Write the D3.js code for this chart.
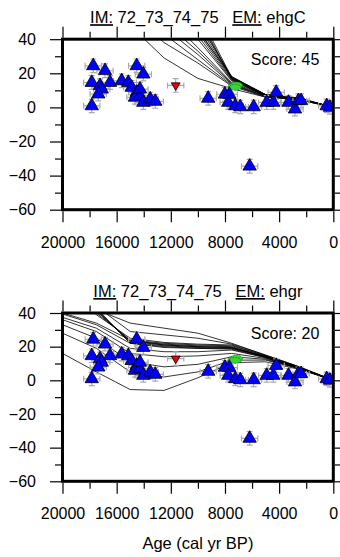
<!DOCTYPE html>
<html>
<head>
<meta charset="utf-8">
<script src="https://cdn.jsdelivr.net/npm/d3@7"></script>
<style>
  body { margin: 0; background: #fff; }
  svg { font-family: "Liberation Sans", Arial, Helvetica, sans-serif; }
</style>
</head>
<body>
<div id="chart"></div>
<script>
// observed sea-level index points (age in cal yr BP, RSL in m)
const obsAge = [17730, 16860, 17840, 17230, 17100, 16490, 15630, 15140, 14890, 14520,
                14030, 17360, 17840, 14520, 14650, 14280, 14030, 13520, 13150, 14280,
                9240, 8010, 7680, 7760, 7240, 6870, 5880, 4920, 4430, 4220,
                3310, 2830, 2580, 2380, 490, 250, 6180];
const obsRsl = [24.4, 21.5, 14.6, 12.7, 10.7, 14.6, 15.6, 14.6, 11.7, 24.4,
                19.5, 7.8, 0.9, 8.8, 5.9, 6.8, 2.9, 4.9, 3.5, 10.7,
                5.3, 7.7, 7.6, 2.9, 0.9, 0.3, 0.3, 2.9, 2.9, 8.8,
                2.9, -1, 3.9, 3.9, 0.9, 0, -34.5];
const ageErr = 600;
const rslErr = 4;
// limiting point (red) and the green samples
const limAge = [11640];
const limRsl = [12.9];
const greenAge = [7330, 7150, 7250];
const greenRsl = [12.6, 13.1, 11.8];

// model curves, values at these ages
const modelAges = [20000, 17500, 15000, 12500, 10000, 7500, 5000, 2500, 0];
const modelsC = [
  [70, 60, 48, 29, 17, 11, 6, 4.5, 0],
  [75, 65, 55, 38, 26, 12.5, 6, 4.5, 0],
  [80, 70, 60, 43, 28, 13, 6.5, 4.5, 0],
  [82, 72, 62, 47, 31, 13.5, 6.5, 5, 0],
  [85, 75, 65, 50, 33, 14, 6.5, 5, 0],
  [88, 78, 68, 55, 35, 14.5, 7, 5, 0],
  [90, 80, 70, 60, 40, 15.5, 7, 5, 0],
  [92, 82, 72, 62, 42, 16, 7, 5, 0],
  [94, 84, 74, 64, 44, 16.5, 7, 5, 0],
  [96, 86, 76, 66, 46, 17, 7.5, 5, 0],
  [98, 88, 78, 68, 48, 17.5, 7.5, 5, 0],
  [100, 90, 80, 70, 50, 18, 7.5, 5.5, 0],
  [100, 92, 82, 72, 52, 17, 7, 5, 0],
  [100, 94, 84, 74, 54, 16.5, 7, 5, 0],
  [100, 96, 86, 76, 56, 17.5, 7, 5, 0],
  [100, 90, 80, 70, 45, 18, 7.5, 5.5, 0]
];
const modelsR = [
  [48, 42, 34, 31, 28, 22, 15, 8, 0],
  [52, 44, 29, 27, 25, 21.5, 15, 8, 0],
  [55, 39, 25, 22.5, 21.5, 21, 14.5, 7.5, 0],
  [57, 40, 24, 22, 21, 20.5, 14.5, 7.5, 0],
  [58, 41, 23.5, 21.5, 20.5, 20, 14, 7.5, 0],
  [60, 41.5, 23, 21, 20, 19.5, 14, 7.5, 0],
  [61, 42, 22.5, 20.5, 19.5, 19, 14, 7.5, 0],
  [62, 43, 22, 20, 19, 18.5, 13.5, 7, 0],
  [40, 34, 24, 21, 20, 19.5, 14, 7.5, 0],
  [39.4, 33, 22, 19.5, 19, 19, 14, 7.5, 0],
  [37.4, 31, 19, 17, 17, 18, 13.5, 7, 0],
  [36, 29, 16, 14, 14.5, 16, 13, 7, 0],
  [33, 25, 11, 8, 9.5, 14, 12.5, 7, 0],
  [28, 19, 5, 2, 5, 12, 12, 7, 0],
  [16, 5, -5.5, -6, 1.5, 10.5, 11, 6.5, 0]
];

const imLabel = '72_73_74_75';
const emLabels = ['ehgC', 'ehgr'];
const scores = [45, 20];
const xDomain = [20000, 0];
const yDomain = [-60, 40];
const xMajor = [20000, 16000, 12000, 8000, 4000, 0];
const xMinor = [18000, 14000, 10000, 6000, 2000];
const yMajor = [40, 20, 0, -20, -40, -60];
const yMinor = [30, 10, -10, -30, -50];
const xTitle = 'Age (cal yr BP)';

document.addEventListener('DOMContentLoaded', function(){
  drawChart();
});

function drawChart() {
  const svg = d3.select('#chart').append('svg').attr('width', 340).attr('height', 557);

  const left = 62.5, right = 333.3;
  const panels = [
    {top: 39.2, bottom: 209.7, models: modelsC},
    {top: 313, bottom: 481.3, models: modelsR}
  ];

  const x = d3.scaleLinear().domain(xDomain).range([left, right]);

  panels.forEach(function(p, i) {
    const y = d3.scaleLinear().domain(yDomain).range([p.bottom, p.top]);
    const g = svg.append('g');

    g.append('clipPath').attr('id', 'clip' + i)
      .append('rect').attr('x', left).attr('y', p.top)
      .attr('width', right - left).attr('height', p.bottom - p.top);

    // axes: major ticks with labels, minor ticks without
    function axisPair(axisFn, scale, major, minor, transform, labels) {
      const a = g.append('g').attr('transform', transform)
        .call(axisFn(scale).tickValues(major).tickSize(11).tickPadding(14)
          .tickFormat(labels ? d3.format('d') : ''));
      const b = g.append('g').attr('transform', transform)
        .call(axisFn(scale).tickValues(minor).tickSize(6).tickFormat(''));
      [a, b].forEach(function(s) {
        s.select('.domain').remove();
        s.selectAll('line').attr('stroke', '#000').attr('stroke-width', 1.2);
        s.selectAll('text').attr('font-size', 16).attr('fill', '#000')
          .style('font-family', '"Liberation Sans", Arial, sans-serif');
      });
    }
    axisPair(d3.axisBottom, x, xMajor, xMinor, 'translate(0,' + (p.bottom + 1.5) + ')', true);
    axisPair(d3.axisTop, x, xMajor, xMinor, 'translate(0,' + (p.top - 1.5) + ')', false);
    axisPair(d3.axisLeft, y, yMajor, yMinor, 'translate(' + (left - 1.5) + ',0)', true);
    axisPair(d3.axisRight, y, yMajor, yMinor, 'translate(' + (right + 1.5) + ',0)', false);

    const plot = g.append('g').attr('clip-path', 'url(#clip' + i + ')');

    // model curves
    const line = d3.line()
      .x(function(d, k) { return x(modelAges[k]); })
      .y(function(d) { return y(d); });
    plot.selectAll('path.model').data(p.models).enter().append('path')
      .attr('class', 'model')
      .attr('d', line)
      .attr('fill', 'none')
      .attr('stroke', '#000')
      .attr('stroke-width', 0.8);

    // error crosses
    const allAge = obsAge.concat(limAge);
    const allRsl = obsRsl.concat(limRsl);
    const cross = plot.append('g').attr('stroke', '#aaaaaa').attr('stroke-width', 1.2).attr('fill', 'none');
    allAge.forEach(function(a, k) {
      const cx = x(a), cy = y(allRsl[k]);
      const x0 = x(a + ageErr), x1 = x(a - ageErr);
      const y0 = y(allRsl[k] + rslErr), y1 = y(allRsl[k] - rslErr);
      cross.append('path').attr('d',
        'M' + x0 + ',' + cy + 'H' + x1 +
        'M' + x0 + ',' + (cy - 3) + 'V' + (cy + 3) +
        'M' + x1 + ',' + (cy - 3) + 'V' + (cy + 3) +
        'M' + cx + ',' + y0 + 'V' + y1 +
        'M' + (cx - 3) + ',' + y0 + 'H' + (cx + 3) +
        'M' + (cx - 3) + ',' + y1 + 'H' + (cx + 3));
    });

    // green samples
    plot.selectAll('ellipse.green').data(greenAge).enter().append('ellipse')
      .attr('cx', function(d) { return x(d); })
      .attr('cy', function(d, k) { return y(greenRsl[k]); })
      .attr('rx', 6).attr('ry', 3)
      .attr('fill', '#3ad33a')
      .attr('stroke', '#0a8a0a')
      .attr('stroke-width', 0.8)
      .attr('stroke-dasharray', '2,1');

    // observed points
    const tri = d3.symbol().type(d3.symbolTriangle).size(78);
    plot.selectAll('path.obs').data(obsAge).enter().append('path')
      .attr('class', 'obs')
      .attr('d', tri)
      .attr('transform', function(d, k) { return 'translate(' + x(d) + ',' + y(obsRsl[k]) + ')'; })
      .attr('fill', '#0000ff')
      .attr('stroke', '#000')
      .attr('stroke-width', 0.8);

    // limiting point
    const triSmall = d3.symbol().type(d3.symbolTriangle).size(34);
    plot.selectAll('path.lim').data(limAge).enter().append('path')
      .attr('class', 'lim')
      .attr('d', triSmall)
      .attr('transform', function(d, k) { return 'translate(' + x(d) + ',' + y(limRsl[k]) + ') rotate(180)'; })
      .attr('fill', '#e8000b')
      .attr('stroke', '#000')
      .attr('stroke-width', 0.8);

    // frame
    g.append('rect')
      .attr('x', left).attr('y', p.top)
      .attr('width', right - left).attr('height', p.bottom - p.top)
      .attr('fill', 'none').attr('stroke', '#000').attr('stroke-width', 3);

    // title with underlined keys
    const t = g.append('text')
      .attr('x', (left + right) / 2).attr('y', p.top - 16)
      .attr('text-anchor', 'middle').attr('font-size', 16.5);
    t.append('tspan').style('text-decoration', 'underline').text('IM:');
    t.append('tspan').text(' ' + imLabel + '\u00a0\u00a0\u00a0');
    t.append('tspan').style('text-decoration', 'underline').text('EM:');
    t.append('tspan').text(' ' + emLabels[i]);

    g.append('text')
      .attr('x', right - 14).attr('y', p.top + 25.5)
      .attr('text-anchor', 'end').attr('font-size', 16)
      .text('Score: ' + scores[i]);
  });

  svg.append('text')
    .attr('x', (left + right) / 2).attr('y', 549)
    .attr('text-anchor', 'middle').attr('font-size', 16.5)
    .text(xTitle);
}
</script>
</body>
</html>
